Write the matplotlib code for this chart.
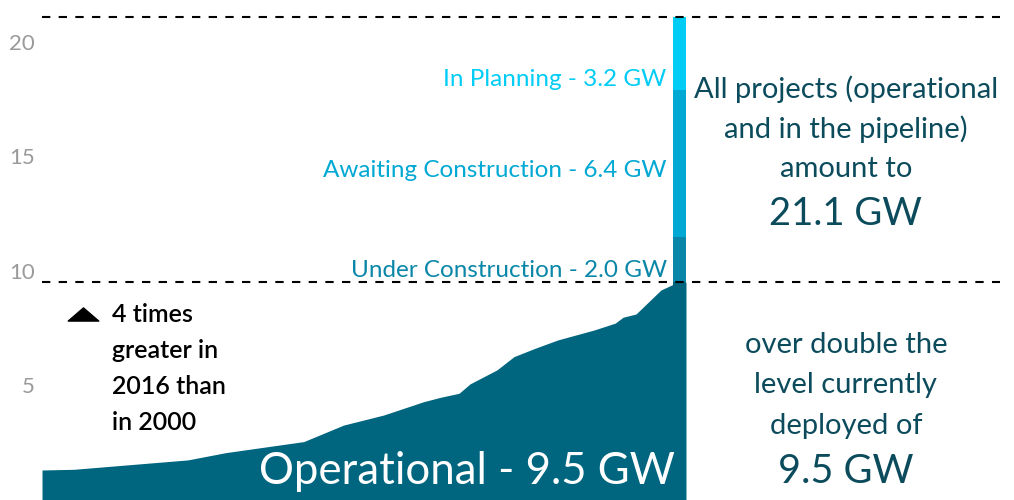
import matplotlib.pyplot as plt
from matplotlib.path import Path

# operational capacity (GW)
years = [2000.0, 2000.84, 2003.85, 2004.86, 2006.91, 2007.96, 2009.02, 2010.07,
         2010.51, 2011.01, 2011.30, 2012.01, 2012.46, 2013.01, 2013.62, 2014.57,
         2015.13, 2015.34, 2015.68, 2016.34, 2016.68, 2017.0]
operational = [1.31, 1.34, 1.75, 2.07, 2.55, 3.27, 3.71, 4.29,
               4.48, 4.66, 5.07, 5.68, 6.26, 6.62, 6.99, 7.42,
               7.72, 7.98, 8.12, 9.17, 9.43, 9.5]

# pipeline stacked on top of the 9.5 GW operational
stages = ["Operational", "Under Construction", "Awaiting Construction", "In Planning"]
stage_gw = [9.5, 2.0, 6.4, 3.2]
total_gw = 21.1

yticks = [5, 10, 15, 20]

dark = "#00657f"
stage_colors = [dark, "#0a87a8", "#00a8d4", "#00ccf5"]
text_col = "#0b4b5c"

plt.rcParams['font.family'] = ['Lato', 'DejaVu Sans']

fig = plt.figure(figsize=(10.14, 5.0), dpi=100)
ax = fig.add_axes([42 / 1014, 0, 1 - 42 / 1014 - 14 / 1014, 1])

ax.fill_between(years, operational, 0, color=dark, linewidth=0)

bar_x = 2016.83
bar_w = 0.34
bottom = 0
for name, val, col in zip(stages, stage_gw, stage_colors):
    ax.bar(bar_x, val, width=bar_w, bottom=bottom, color=col, linewidth=0)
    bottom += val

ax.axhline(total_gw, color="black", linestyle=(0, (4, 4)), linewidth=1.5, zorder=3)
ax.axhline(stage_gw[0], color="black", linestyle=(0, (4, 4)), linewidth=1.5, zorder=3)

ax.set_xlim(2000, 2025.29)
ax.set_ylim(0, 21.83)
ax.set_xticks([])
ax.set_yticks(yticks)
ax.set_yticklabels([str(t) for t in yticks], color="#9a9a9a", fontsize=16)
ax.tick_params(axis="y", length=0, pad=5)
for s in ax.spines.values():
    s.set_visible(False)

# stage labels to the left of the bar
lab_x = 2016.49
ax.text(lab_x, 18.38, "In Planning - 3.2 GW", color=stage_colors[3], fontsize=17.5,
        ha="right", va="center")
ax.text(lab_x, 14.37, "Awaiting Construction - 6.4 GW", color=stage_colors[2],
        fontsize=17.5, ha="right", va="center")
ax.text(lab_x, 10.0, "Under Construction - 2.0 GW", color=stage_colors[1], fontsize=17.5,
        ha="right", va="center")

ax.text(2016.71, 1.25, "Operational - 9.5 GW", color="white", fontsize=31.5,
        ha="right", va="center")

# right hand notes
rx = 2021.22
ax.text(rx, 17.95, "All projects (operational", color=text_col, fontsize=21,
        ha="center", va="center")
ax.text(rx, 16.2, "and in the pipeline)", color=text_col, fontsize=21,
        ha="center", va="center")
ax.text(rx, 14.45, "amount to", color=text_col, fontsize=21, ha="center", va="center")
ax.text(rx, 12.5, "21.1 GW", color=text_col, fontsize=27.5, ha="center", va="center")

ax.text(rx, 6.75, "over double the", color=text_col, fontsize=21, ha="center", va="center")
ax.text(rx, 5.0, "level currently", color=text_col, fontsize=21, ha="center", va="center")
ax.text(rx, 3.25, "deployed of", color=text_col, fontsize=21, ha="center", va="center")
ax.text(rx, 1.25, "9.5 GW", color=text_col, fontsize=28.5, ha="center", va="center")

# growth note with a flat triangle marker
tri = Path([(-1, -0.43), (1, -0.43), (0, 0.43), (-1, -0.43)],
           [Path.MOVETO, Path.LINETO, Path.LINETO, Path.CLOSEPOLY])
ax.plot([2001.08], [8.14], marker=tri, color="black", markersize=22, linestyle="none")
ax.text(2001.85, 8.62, "4 times\ngreater in\n2016 than\nin 2000", color="black",
        fontsize=18, fontweight="semibold", ha="left", va="top", linespacing=1.7)

fig.savefig("out.png", dpi=100)
